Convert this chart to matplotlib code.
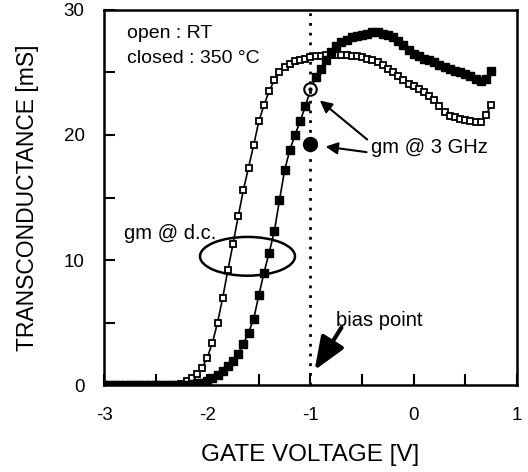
import matplotlib
matplotlib.use('Agg')
import matplotlib.pyplot as plt
import numpy as np
from matplotlib.patches import Ellipse

plt.rcParams['font.family'] = ['Liberation Sans', 'DejaVu Sans']
plt.rcParams['axes.unicode_minus'] = False

# gate voltage steps (V)
gateVoltage = [
    -3.00, -2.95, -2.90, -2.85, -2.80, -2.75, -2.70, -2.65, -2.60, -2.55,
    -2.50, -2.45, -2.40, -2.35, -2.30, -2.25, -2.20, -2.15, -2.10, -2.05,
    -2.00, -1.95, -1.90, -1.85, -1.80, -1.75, -1.70, -1.65, -1.60, -1.55,
    -1.50, -1.45, -1.40, -1.35, -1.30, -1.25, -1.20, -1.15, -1.10, -1.05,
    -1.00, -0.95, -0.90, -0.85, -0.80, -0.75, -0.70, -0.65, -0.60, -0.55,
    -0.50, -0.45, -0.40, -0.35, -0.30, -0.25, -0.20, -0.15, -0.10, -0.05,
    0.00, 0.05, 0.10, 0.15, 0.20, 0.25, 0.30, 0.35, 0.40, 0.45,
    0.50, 0.55, 0.60, 0.65, 0.70, 0.75,
]

# open squares : RT
gmRT = [
    0.0, 0.0, 0.0, 0.0, 0.0, 0.0, 0.0, 0.0, 0.0, 0.0,
    0.0, 0.0, 0.0, 0.0, 0.05, 0.1, 0.3, 0.6, 0.9, 1.4,
    2.2, 3.4, 5.0, 7.0, 9.2, 11.3, 13.5, 15.6, 17.4, 19.2,
    21.1, 22.4, 23.5, 24.4, 25.0, 25.4, 25.7, 25.9, 26.0, 26.1,
    26.2, 26.3, 26.3, 26.4, 26.4, 26.4, 26.4, 26.4, 26.3, 26.3,
    26.2, 26.1, 26.0, 25.8, 25.6, 25.3, 25.0, 24.7, 24.4, 24.1,
    23.9, 23.7, 23.4, 23.1, 22.8, 22.3, 21.8, 21.5, 21.4, 21.3,
    21.2, 21.1, 21.0, 21.0, 21.6, 22.4,
]

# closed squares : 350 C
gm350 = [
    0.0, 0.0, 0.0, 0.0, 0.0, 0.0, 0.0, 0.0, 0.0, 0.0,
    0.0, 0.0, 0.0, 0.0, 0.0, 0.0, 0.05, 0.1, 0.15, 0.2,
    0.3, 0.6, 0.8, 1.1, 1.5, 1.9, 2.5, 3.3, 4.2, 5.3,
    7.2, 9.0, 10.6, 12.3, 14.8, 17.2, 18.8, 20.0, 21.1, 22.3,
    23.6, 24.6, 25.3, 26.0, 26.6, 27.1, 27.4, 27.6, 27.8, 27.9,
    28.0, 28.1, 28.2, 28.2, 28.1, 28.0, 27.8, 27.5, 27.2, 26.8,
    26.5, 26.3, 26.1, 26.0, 25.8, 25.6, 25.4, 25.3, 25.1, 25.0,
    24.9, 24.7, 24.5, 24.3, 24.5, 25.1,
]

# gm @ 3 GHz at the bias point
rfVoltage = -1.0
rfGmRT = 23.7
rfGm350 = 19.3

fig = plt.figure(figsize=(5.28, 4.72), dpi=100)
ax = fig.add_axes([0.197, 0.184, 0.782, 0.795])

ax.plot(gateVoltage, gmRT, '-', color='black', linewidth=1.2,
        marker='s', markersize=4.8, markerfacecolor='white',
        markeredgecolor='black', markeredgewidth=1.3)
ax.plot(gateVoltage, gm350, '-', color='black', linewidth=1.2,
        marker='s', markersize=5.2, markerfacecolor='black',
        markeredgecolor='black')

ax.plot(rfVoltage, rfGmRT, 'o', markersize=9, markerfacecolor='white',
        markeredgecolor='black', markeredgewidth=1.5)
ax.plot(rfVoltage, rfGmRT, 'o', markersize=2, color='black')
ax.plot(rfVoltage, rfGm350, 'o', markersize=10, color='black')

ax.axvline(-1, color='black', linestyle=(0, (1, 2.5)), linewidth=2)

ax.add_patch(Ellipse((-1.61, 10.3), 0.92, 3.1, fill=False,
                     edgecolor='black', linewidth=1.8))

ax.text(-2.78, 28.1, 'open : RT', fontsize=14, va='center')
ax.text(-2.78, 26.1, 'closed : 350 \u00b0C', fontsize=14, va='center')
ax.text(-2.81, 12.1, 'gm @ d.c.', fontsize=14.5, va='center')
ax.text(-0.75, 5.2, 'bias point', fontsize=14.5, va='center')
ax.text(-0.41, 19.0, 'gm @ 3 GHz', fontsize=14.5, va='center')

ax.annotate('', xy=(-0.93, 22.9), xytext=(-0.43, 19.5),
            arrowprops=dict(arrowstyle='-|>', color='black', lw=1.5,
                            mutation_scale=18))
ax.annotate('', xy=(-0.88, 19.1), xytext=(-0.43, 18.6),
            arrowprops=dict(arrowstyle='-|>', color='black', lw=1.5,
                            mutation_scale=18))
ax.annotate('', xy=(-0.96, 1.2), xytext=(-0.70, 4.6),
            arrowprops=dict(arrowstyle='-|>,head_length=0.4,head_width=0.16',
                            color='black', lw=3, mutation_scale=50,
                            shrinkA=0, shrinkB=0))

ax.set_xlim(-3, 1)
ax.set_ylim(0, 30)
ax.set_xticks([-3, -2, -1, 0, 1])
ax.set_xticks(np.arange(-2.5, 1, 0.5), minor=True)
ax.set_yticks([0, 10, 20, 30])
ax.set_yticks([5, 15, 25], minor=True)
ax.tick_params(which='both', direction='in', labelsize=13.5, width=1.5)
ax.tick_params(which='major', length=8)
ax.tick_params(which='minor', length=8)
ax.tick_params(axis='x', which='major', pad=16)
ax.tick_params(axis='y', which='major', pad=14)
for spine in ax.spines.values():
    spine.set_linewidth(1.8)

ax.set_xlabel('GATE VOLTAGE [V]', fontsize=17.5, labelpad=14)
ax.set_ylabel('TRANSCONDUCTANCE [mS]', fontsize=16.5, labelpad=18)

fig.savefig('out.png', dpi=100)
